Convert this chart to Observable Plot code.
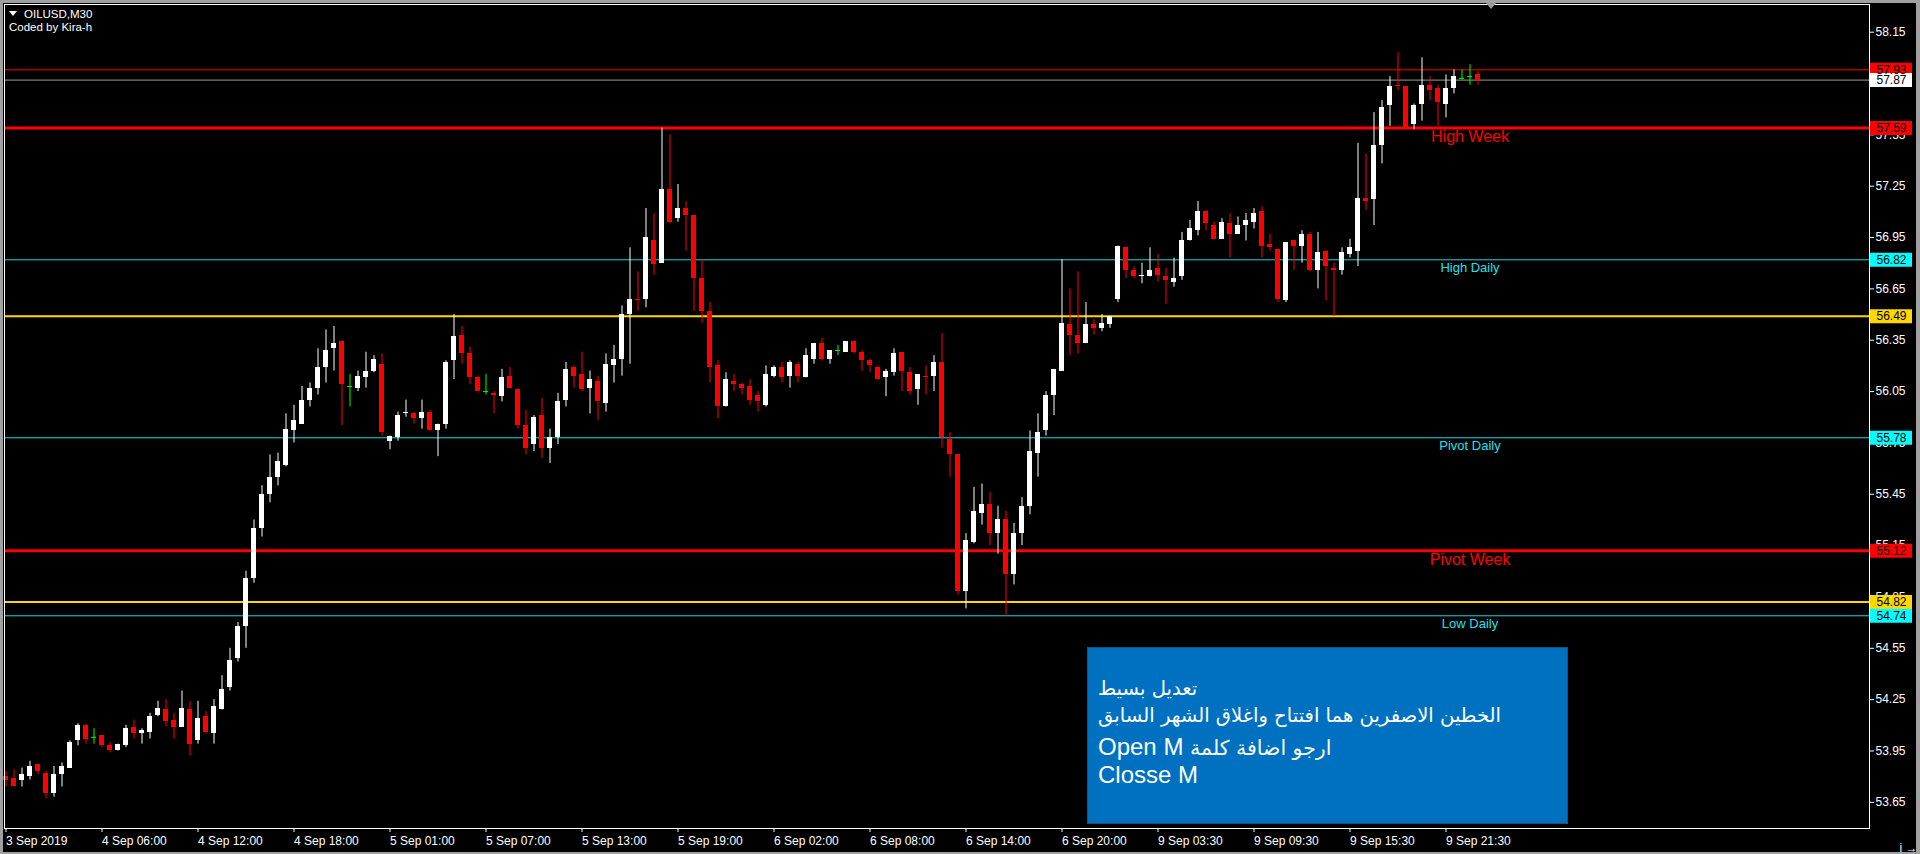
<!DOCTYPE html>
<html><head><meta charset="utf-8">
<script src="https://cdn.jsdelivr.net/npm/d3@7"></script>
<script src="https://cdn.jsdelivr.net/npm/@observablehq/plot@0.6"></script>
<style>
html,body{margin:0;padding:0;background:#000;width:1920px;height:854px;overflow:hidden}
#wrap{position:relative;width:1920px;height:854px;font-family:"Liberation Sans",Arial,sans-serif}
#chart svg{display:block}
.win{position:absolute;left:0;top:0;width:1920px;height:854px;box-sizing:border-box;border-style:solid;border-color:#a0a0a0;border-width:3px 4px 2px 3px;pointer-events:none}
.info{position:absolute;color:#fff;font-size:11.5px;line-height:1;white-space:nowrap}
.tri{position:absolute;width:0;height:0;border-left:4px solid transparent;border-right:4px solid transparent;border-top:5px solid #fff}
.shift{position:absolute;left:1486px;top:3px;width:0;height:0;border-left:5px solid transparent;border-right:5px solid transparent;border-top:6px solid #9a9a9a}
#note{position:absolute;left:1087px;top:647px;width:481px;height:177px;box-sizing:border-box;background:#0070c0;border:1px solid #1c4f7c;color:#fff}
#note div{position:absolute;left:10px;white-space:nowrap;line-height:1}
.ar{font-family:"DejaVu Sans",sans-serif;font-size:19.6px}
.ar3{font-family:"DejaVu Sans",sans-serif;font-size:20.5px}
.la{font-family:"Liberation Sans",Arial,sans-serif;font-size:24px}
</style></head>
<body><div id="wrap"><div id="chart"></div>
<div class="tri" style="left:9px;top:11px"></div>
<div class="info" style="left:24px;top:9px">OILUSD,M30</div>
<div class="info" style="left:9px;top:22px">Coded by Kira-h</div>
<div class="shift"></div>
<div id="note">
<div style="top:31px"><span class="ar">تعديل بسيط</span></div>
<div style="top:58px"><span class="ar">الخطين الاصفرين هما افتتاح واغلاق الشهر السابق</span></div>
<div style="top:87px"><span class="la">Open M </span><span class="ar3">ارجو اضافة كلمة</span></div>
<div style="top:115px"><span class="la">Closse M</span></div>
</div>
<div class="win"></div>
</div>
<script>
// ---- data (OILUSD M30, bar index 0..184) ----
const opens = [53.80,53.79,53.78,53.80,53.87,53.82,53.70,53.81,53.85,54.01,
54.10,54.03,54.04,53.98,53.95,53.98,54.09,54.05,54.06,54.16,
54.19,54.13,54.09,54.19,54.01,54.15,54.05,54.19,54.32,54.49,
54.68,54.96,55.25,55.45,55.55,55.62,55.82,55.86,56.00,56.07,
56.19,56.30,56.34,56.08,56.07,56.13,56.17,56.21,55.76,55.78,
55.92,55.92,55.89,55.93,55.82,55.86,56.23,56.38,56.27,56.13,
56.05,56.04,56.02,56.14,56.06,55.85,55.74,55.91,55.72,55.78,
56.00,56.19,56.15,56.07,56.11,55.98,56.20,56.24,56.50,56.59,
56.59,56.93,56.80,57.23,57.06,57.12,57.08,56.71,56.52,56.20,
55.96,56.11,56.09,56.08,56.03,55.97,56.14,56.19,56.14,56.21,
56.13,56.24,56.33,56.24,56.29,56.28,56.34,56.28,56.23,56.19,
56.13,56.16,56.28,56.16,56.06,56.14,56.14,56.22,55.77,55.68,
54.88,55.17,55.34,55.39,55.22,55.30,54.98,55.22,55.38,55.69,
55.82,56.03,56.17,56.44,56.38,56.33,56.44,56.42,56.44,56.59,
56.89,56.76,56.72,56.72,56.77,56.72,56.69,56.72,56.93,56.99,
57.10,57.02,56.94,57.03,56.97,57.02,57.04,57.10,56.91,56.88,
56.58,56.93,56.90,56.97,56.76,56.87,56.77,56.76,56.85,56.87,
57.18,57.17,57.49,57.72,57.84,57.83,57.61,57.73,57.84,57.82,
57.73,57.82,57.88,57.89,57.90];
const highs = [53.83,53.84,53.85,53.89,53.87,53.83,53.86,53.88,54.01,54.11,
54.10,54.08,54.04,54.00,53.99,54.10,54.13,54.08,54.17,54.24,
54.25,54.17,54.30,54.24,54.24,54.18,54.25,54.39,54.55,54.70,
55.00,55.30,55.50,55.68,55.69,55.92,55.97,56.08,56.10,56.30,
56.41,56.43,56.34,56.15,56.17,56.28,56.26,56.27,55.79,55.93,
56.00,55.93,56.00,55.94,55.86,56.23,56.50,56.43,56.31,56.14,
56.15,56.05,56.18,56.19,56.06,55.94,55.91,56.01,55.83,56.04,
56.22,56.20,56.28,56.17,56.14,56.27,56.32,56.55,56.89,56.75,
57.12,57.09,57.59,57.55,57.26,57.16,57.08,56.82,56.57,56.23,
56.16,56.15,56.10,56.12,56.05,56.20,56.20,56.22,56.23,56.22,
56.30,56.33,56.36,56.29,56.32,56.34,56.34,56.29,56.24,56.20,
56.18,56.30,56.28,56.19,56.15,56.20,56.26,56.39,55.81,55.68,
55.22,55.49,55.51,55.46,55.38,55.35,55.28,55.43,55.82,55.92,
56.05,56.18,56.82,56.65,56.75,56.57,56.47,56.50,56.49,56.90,
56.89,56.78,56.80,56.89,56.85,56.77,56.83,56.98,57.05,57.16,
57.11,57.04,57.06,57.09,57.07,57.09,57.12,57.13,56.97,56.88,
56.92,56.93,56.99,56.98,56.98,56.87,56.80,56.89,56.94,57.50,
57.44,57.68,57.75,57.89,58.03,57.83,57.73,58.00,57.89,57.84,
57.90,57.93,57.93,57.96,57.92];
const lows = [53.74,53.74,53.74,53.78,53.81,53.67,53.68,53.74,53.85,53.98,
53.99,53.99,53.97,53.94,53.95,53.97,54.02,53.99,54.02,54.15,
54.09,54.02,54.09,53.92,53.99,54.05,53.99,54.19,54.30,54.47,
54.55,54.93,55.20,55.40,55.50,55.61,55.75,55.86,55.96,56.03,
56.10,56.17,55.85,55.96,56.05,56.07,56.16,55.79,55.71,55.76,
55.90,55.86,55.83,55.82,55.67,55.83,56.12,56.21,56.09,56.05,
56.03,55.92,55.99,56.07,55.83,55.68,55.70,55.66,55.63,55.74,
55.96,56.07,56.05,55.92,55.88,55.93,56.10,56.14,56.21,56.52,
56.54,56.73,56.80,57.03,57.04,56.87,56.52,56.45,56.10,55.89,
55.96,56.05,56.03,55.97,55.93,55.96,56.13,56.10,56.07,56.10,
56.13,56.21,56.23,56.21,56.26,56.28,56.27,56.17,56.16,56.12,
56.02,56.14,56.05,56.03,55.97,56.03,56.05,55.72,55.55,54.86,
54.78,55.16,55.27,55.15,55.10,54.74,54.92,55.15,55.33,55.55,
55.79,55.91,56.17,56.26,56.27,56.33,56.38,56.40,56.42,56.57,
56.71,56.71,56.68,56.72,56.69,56.56,56.66,56.70,56.93,56.96,
56.99,56.94,56.94,56.83,56.97,56.93,57.00,56.83,56.87,56.57,
56.57,56.76,56.80,56.75,56.65,56.58,56.49,56.73,56.83,56.78,
57.11,57.02,57.38,57.60,57.81,57.58,57.58,57.63,57.75,57.60,
57.65,57.79,57.87,57.84,57.84];
const closes = [53.78,53.74,53.81,53.86,53.83,53.70,53.81,53.86,54.00,54.10,
54.02,54.03,53.98,53.95,53.99,54.08,54.05,54.07,54.15,54.20,
54.12,54.09,54.20,53.99,54.14,54.06,54.21,54.31,54.48,54.68,
54.96,55.25,55.45,55.55,55.64,55.83,55.88,56.00,56.07,56.19,
56.29,56.33,56.09,56.08,56.14,56.17,56.24,55.81,55.79,55.91,
55.93,55.89,55.93,55.82,55.86,56.22,56.37,56.27,56.13,56.05,
56.05,56.03,56.13,56.07,55.85,55.72,55.90,55.72,55.78,55.99,
56.18,56.14,56.06,56.12,55.99,56.21,56.24,56.50,56.59,56.58,
56.95,56.79,57.23,57.04,57.12,57.08,56.71,56.52,56.19,55.96,
56.12,56.09,56.07,56.00,55.99,56.15,56.19,56.13,56.22,56.14,
56.26,56.33,56.24,56.29,56.29,56.34,56.28,56.23,56.20,56.12,
56.17,56.27,56.17,56.05,56.15,56.13,56.22,55.78,55.68,54.88,
55.18,55.35,55.39,55.22,55.30,54.98,55.22,55.38,55.70,55.81,
56.03,56.18,56.45,56.38,56.33,56.44,56.42,56.45,56.49,56.90,
56.76,56.72,56.73,56.76,56.73,56.70,56.71,56.93,57.00,57.10,
57.03,56.94,57.04,56.97,57.02,57.05,57.09,56.90,56.89,56.59,
56.92,56.90,56.97,56.76,56.86,56.78,56.76,56.86,56.89,57.18,
57.16,57.49,57.71,57.83,57.83,57.59,57.72,57.84,57.81,57.74,
57.82,57.89,57.88,57.89,57.87];

const xTickLabels = ["3 Sep 2019","4 Sep 06:00","4 Sep 12:00","4 Sep 18:00","5 Sep 01:00","5 Sep 07:00","5 Sep 13:00","5 Sep 19:00","6 Sep 02:00","6 Sep 08:00","6 Sep 14:00","6 Sep 20:00","9 Sep 03:30","9 Sep 09:30","9 Sep 15:30","9 Sep 21:30"];
const barsPerTick = 12;
const yTicks = [58.15,57.85,57.55,57.25,56.95,56.65,56.35,56.05,55.75,55.45,55.15,54.85,54.55,54.25,53.95,53.65];

const levelPrices = [57.93, 57.87, 57.59, 56.82, 56.49, 55.78, 55.12, 54.82, 54.74];
const levelKinds  = ["ask","bid","week","daily","month","daily","week","month","daily"];
const levelNames  = ["","","High Week","High Daily","","Pivot Daily","Pivot Week","","Low Daily"];

// ---- build ----
const bars = opens.map((o,i)=>({i, o, h:highs[i], l:lows[i], c:closes[i]}));
const colorOf = d => d.c > d.o ? "#ffffff" : d.c < d.o ? "#ff0000" : "#00ff00";
const bodies = bars.filter(d=>d.c!==d.o);
const dojis = bars.filter(d=>d.c===d.o);
const half = 2.5/8;
const style = {
  ask:{line:"#ff0000", w:1, box:"#ff0000", text:"#ff0000", fs:13},
  bid:{line:"#9a9a9a", w:1, box:"#ffffff", text:"#9a9a9a", fs:13},
  week:{line:"#ff0000", w:3, box:"#ff0000", text:"#ff0000", fs:16},
  daily:{line:"#1ed8e6", w:1, box:"#00ffff", text:"#22e0ee", fs:13},
  month:{line:"#ffd700", w:2, box:"#ffd700", text:"#ffd700", fs:13}
};
const levels = levelPrices.map((p,k)=>({p, kind:levelKinds[k], name:levelNames[k], ...style[levelKinds[k]]}));
const xDomain = [-0.1875, 232.9375];
const yDomain = [53.4971, 58.3117];
const lastBar = bars.length - 1;
const tickBars = xTickLabels.map((_,k)=>k*barsPerTick);
const tickLabelOf = new Map(tickBars.map((b,k)=>[b, xTickLabels[k]]));

const chart = Plot.plot({
  width:1920, height:854,
  marginLeft:4, marginRight:51, marginTop:4, marginBottom:26,
  style:{background:"#000", color:"#fff", fontFamily:"'Liberation Sans', Arial, sans-serif", fontSize:"12px"},
  x:{domain:xDomain, axis:null},
  y:{domain:yDomain, axis:null},
  marks:[
    Plot.axisY({anchor:"right", ticks:yTicks, tickFormat:d=>d.toFixed(2), tickSize:4, tickPadding:2, stroke:"#fff", fill:"#fff", fontSize:12}),
    Plot.axisX({anchor:"bottom", ticks:tickBars, tickFormat:d=>tickLabelOf.get(d), tickSize:4, tickPadding:4, textAnchor:"start", dx:0, stroke:"#fff", fill:"#fff", fontSize:12}),
    Plot.ruleY(levels, {y:"p", stroke:d=>d.line, strokeWidth:d=>d.w}),
    Plot.ruleX(bars, {x:"i", y1:"l", y2:"h", stroke:colorOf, strokeWidth:1}),
    Plot.rect(bodies, {x1:d=>d.i-half, x2:d=>d.i+half, y1:d=>Math.min(d.o,d.c), y2:d=>Math.max(d.o,d.c), fill:colorOf, shapeRendering:"crispEdges"}),
    Plot.ruleY(dojis, {y:"c", x1:d=>d.i-half, x2:d=>d.i+half, stroke:"#00ff00", strokeWidth:1}),
    Plot.ruleY(levels, {y:"p", x1:xDomain[1]+1/8, x2:xDomain[1]+43/8, stroke:d=>d.box, strokeWidth:14, clip:false}),
    Plot.text(levels, {y:"p", text:d=>d.p.toFixed(2), frameAnchor:"right", textAnchor:"start", dx:7, fill:"#000", fontSize:12}),
    Plot.text(levels.filter(d=>d.name), {y:"p", x:()=>lastBar-1, text:"name", fill:d=>d.text, fontSize:d=>d.fs, textAnchor:"middle", lineAnchor:"top", dy:3}),
    Plot.frame({stroke:"#fff"})
  ]
});
document.getElementById("chart").appendChild(chart);
</script>
</body></html>
